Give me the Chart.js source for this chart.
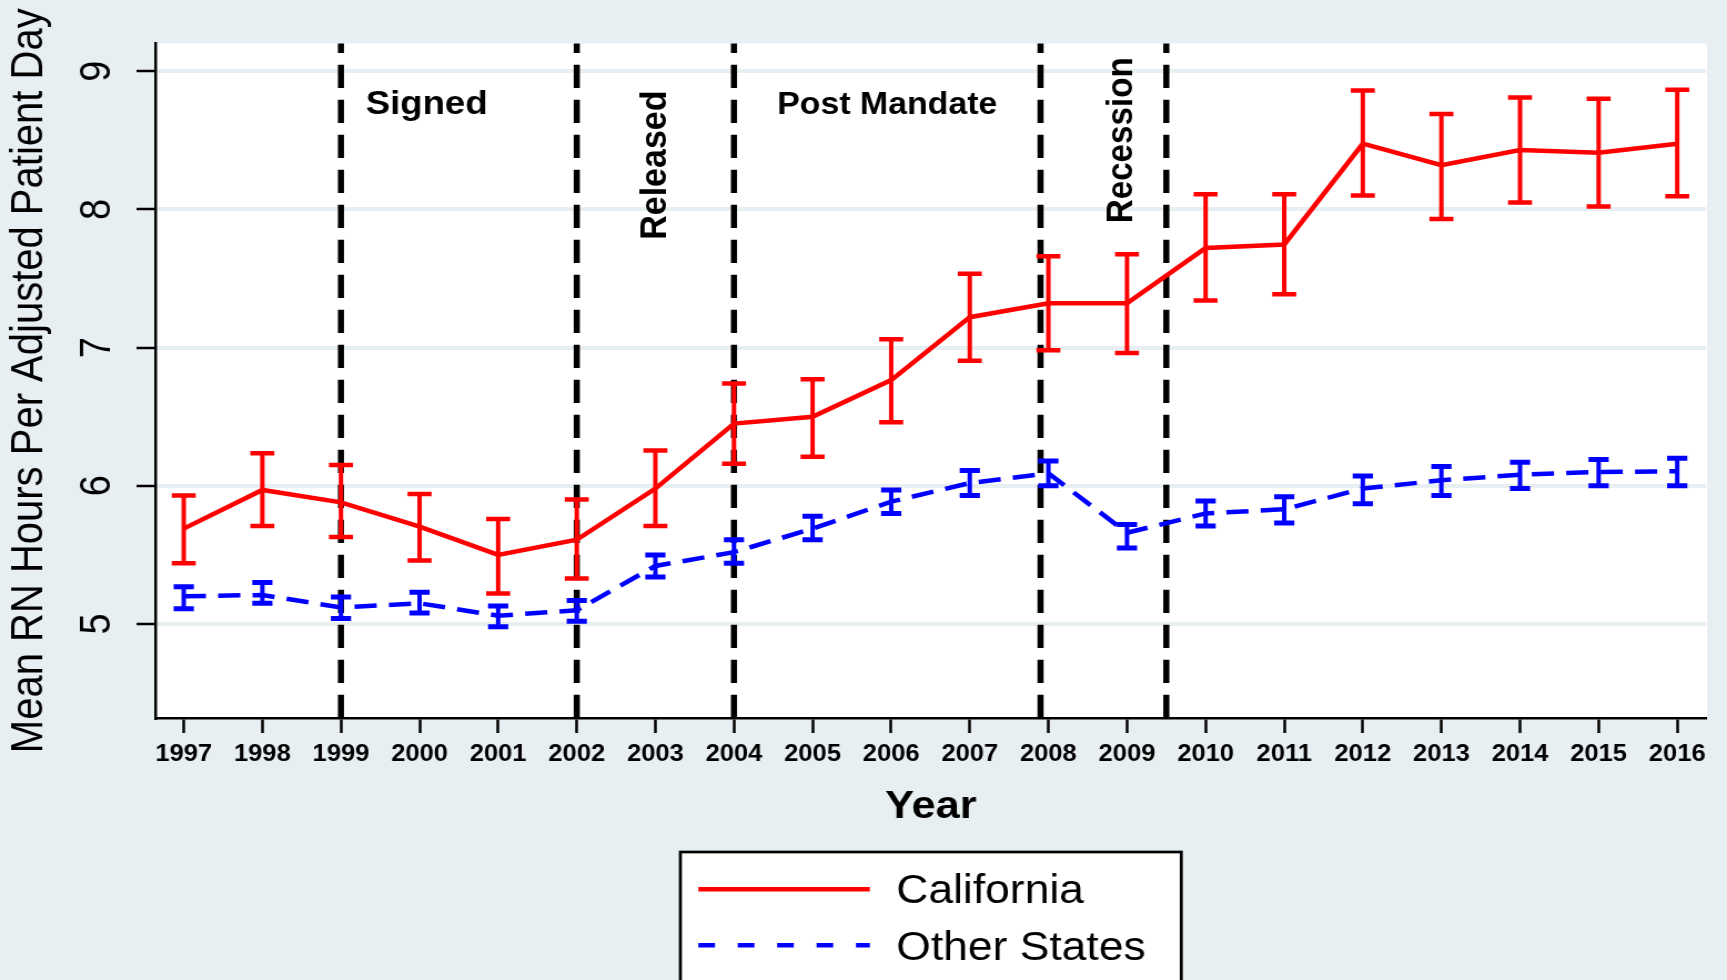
<!DOCTYPE html>
<html>
<head>
<meta charset="utf-8">
<title>Mean RN hours per adjusted patient day</title>
<script src="https://cdn.jsdelivr.net/npm/chart.js@4.4.1/dist/chart.umd.min.js"></script>
<style>
  html, body { margin: 0; padding: 0; background: #e8eff2; overflow: hidden; }
  /* the figure is drawn on a narrower canvas and widened, like the exported graph */
  #rnChart { display: block; transform: scaleX(1.10990); transform-origin: 0 0; }
</style>
</head>
<body>
<canvas id="rnChart" width="1556" height="980"></canvas>
<script>
// yearly means with 95% confidence limits
const years = [1997, 1998, 1999, 2000, 2001, 2002, 2003, 2004, 2005, 2006,
               2007, 2008, 2009, 2010, 2011, 2012, 2013, 2014, 2015, 2016];

const caMean = [5.69, 5.97, 5.88, 5.705, 5.50, 5.61, 5.98, 6.45, 6.50, 6.765,
                7.22, 7.32, 7.32, 7.72, 7.745, 8.475, 8.32, 8.43, 8.41, 8.475];
const caHigh = [5.93, 6.235, 6.15, 5.94, 5.76, 5.90, 6.255, 6.74, 6.77, 7.06,
                7.535, 7.66, 7.675, 8.11, 8.11, 8.86, 8.69, 8.81, 8.80, 8.865];
const caLow  = [5.44, 5.71, 5.63, 5.46, 5.22, 5.33, 5.71, 6.16, 6.21, 6.46,
                6.905, 6.98, 6.96, 7.34, 7.385, 8.10, 7.93, 8.05, 8.02, 8.095];

const otherMean = [5.20, 5.21, 5.12, 5.15, 5.06, 5.10, 5.42, 5.52, 5.69, 5.885,
                   6.02, 6.09, 5.66, 5.80, 5.83, 5.98, 6.04, 6.08, 6.10, 6.105];
const otherHigh = [5.27, 5.30, 5.195, 5.23, 5.13, 5.17, 5.50, 5.61, 5.78, 5.97,
                   6.11, 6.18, 5.72, 5.89, 5.92, 6.07, 6.14, 6.17, 6.19, 6.20];
const otherLow  = [5.11, 5.15, 5.04, 5.08, 4.98, 5.02, 5.34, 5.44, 5.61, 5.80,
                   5.93, 6.00, 5.55, 5.71, 5.73, 5.87, 5.93, 5.98, 6.00, 6.00];

const yTicks = [5, 6, 7, 8, 9];

// policy periods: boundaries (in years) and their names
const periodBreaks = [1999, 2002, 2004, 2007.9, 2009.5];
const periodNames = ['Signed', 'Released', 'Post Mandate', 'Recession'];

const FONT = "'Liberation Sans', Arial, Helvetica, sans-serif";
Chart.defaults.font.family = FONT;
Chart.defaults.color = '#000';

// where each period name sits (x in years, y in hours); rotated ones read bottom-up
const notePlacement = [
  { x: 2000.09, y: 8.69,  rotate: false, size: 33 },
  { x: 2003.14, y: 8.32,  rotate: true,  size: 34 },
  { x: 2005.95, y: 8.69,  rotate: false, size: 30.5 },
  { x: 2009.06, y: 8.50,  rotate: true,  size: 33.2 }
];

const stataLook = {
  id: 'stataLook',
  beforeDraw(chart) {
    const { ctx, chartArea: a } = chart;
    ctx.save();
    ctx.fillStyle = '#ffffff';
    ctx.fillRect(a.left, a.top, a.right - a.left + 1, a.bottom - a.top);
    ctx.restore();
  },
  beforeDatasetsDraw(chart) {
    // dashed period boundaries, drawn from the axis upwards
    const { ctx, chartArea: a, scales: { x } } = chart;
    ctx.save();
    ctx.strokeStyle = '#000';
    ctx.lineWidth = 5.5;
    ctx.setLineDash([23.3, 11.7]);
    for (const b of periodBreaks) {
      const px = x.getPixelForValue(b);
      ctx.beginPath();
      ctx.moveTo(px, a.bottom);
      ctx.lineTo(px, a.top);
      ctx.stroke();
    }
    ctx.restore();
  },
  afterDatasetsDraw(chart) {
    // capped error bars
    const { ctx, scales: { x, y } } = chart;
    ctx.save();
    ctx.setLineDash([]);
    for (const ds of chart.data.datasets) {
      ctx.strokeStyle = ds.borderColor;
      ds.errLow.forEach((lo, i) => {
        const px = x.getPixelForValue(years[i]);
        const pLo = y.getPixelForValue(lo);
        const pHi = y.getPixelForValue(ds.errHigh[i]);
        ctx.lineWidth = ds.errWidth;
        ctx.beginPath();
        ctx.moveTo(px, pLo);
        ctx.lineTo(px, pHi);
        ctx.stroke();
        ctx.lineWidth = ds.capWidth;
        ctx.beginPath();
        ctx.moveTo(px - ds.capHalf, pLo); ctx.lineTo(px + ds.capHalf, pLo);
        ctx.moveTo(px - ds.capHalf, pHi); ctx.lineTo(px + ds.capHalf, pHi);
        ctx.stroke();
      });
    }
    ctx.restore();
  },
  afterDraw(chart) {
    const { ctx, chartArea: a, scales: { x, y } } = chart;
    ctx.save();
    ctx.fillStyle = '#000';

    // period names
    periodNames.forEach((name, i) => {
      const n = notePlacement[i];
      ctx.save();
      ctx.font = `bold ${n.size}px ${FONT}`;
      ctx.textAlign = 'center';
      ctx.textBaseline = 'alphabetic';
      ctx.translate(x.getPixelForValue(n.x), y.getPixelForValue(n.y));
      if (n.rotate) ctx.rotate(-Math.PI / 2);
      ctx.fillText(name, 0, 0);
      ctx.restore();
    });

    // boxed legend under the axis title, running off the bottom edge
    const mid = (a.left + a.right) / 2;
    const boxL = mid - 225.7, boxW = 451.3, boxT = 852;
    ctx.fillStyle = '#ffffff';
    ctx.fillRect(boxL, boxT, boxW, chart.height - boxT + 20);
    ctx.strokeStyle = '#000';
    ctx.lineWidth = 2.7;
    ctx.strokeRect(boxL, boxT, boxW, chart.height - boxT + 20);

    const rows = [
      { ds: chart.data.datasets[0], lineY: 889.3, textY: 902.5, dash: [] },
      { ds: chart.data.datasets[1], lineY: 945.3, textY: 960, dash: [15, 20.5] }
    ];
    ctx.font = `40px ${FONT}`;
    ctx.textAlign = 'left';
    ctx.textBaseline = 'alphabetic';
    for (const r of rows) {
      ctx.strokeStyle = r.ds.borderColor;
      ctx.lineWidth = 4.5;
      ctx.setLineDash(r.dash);
      ctx.beginPath();
      ctx.moveTo(boxL + 16.2, r.lineY);
      ctx.lineTo(boxL + 170.7, r.lineY);
      ctx.stroke();
      ctx.fillStyle = '#000';
      ctx.fillText(r.ds.label, boxL + 194.6, r.textY);
    }
    ctx.restore();
  }
};

new Chart(document.getElementById('rnChart'), {
  type: 'line',
  data: {
    datasets: [
      {
        label: 'California',
        data: years.map((yr, i) => ({ x: yr, y: caMean[i] })),
        borderColor: '#ff0000',
        borderWidth: 4.5,
        pointRadius: 0,
        tension: 0,
        errLow: caLow, errHigh: caHigh,
        errWidth: 4, capWidth: 4.5, capHalf: 10.8
      },
      {
        label: 'Other States',
        data: years.map((yr, i) => ({ x: yr, y: otherMean[i] })),
        borderColor: '#0000ff',
        borderWidth: 4.5,
        borderDash: [20, 11],
        pointRadius: 0,
        tension: 0,
        errLow: otherLow, errHigh: otherHigh,
        errWidth: 4, capWidth: 5, capHalf: 9.1
      }
    ]
  },
  options: {
    responsive: false,
    animation: false,
    events: [],
    layout: { padding: { top: 43.5, right: 19, bottom: 0, left: 0 } },
    plugins: { legend: { display: false }, tooltip: { enabled: false } },
    scales: {
      x: {
        type: 'linear',
        min: 1996.645,
        max: 2016.365,
        afterBuildTicks: s => { s.ticks = years.map(v => ({ value: v })); },
        afterFit: s => { s.height = 262; s.paddingLeft = 0; s.paddingRight = 0; },
        grid: { drawOnChartArea: false, tickLength: 15, tickColor: '#000', tickWidth: 2.5 },
        border: { color: '#000', width: 2.5 },
        ticks: {
          autoSkip: false, maxRotation: 0, padding: 8.3,
          font: { size: 23, weight: 'bold' },
          callback: v => String(v)
        },
        title: {
          display: true, text: 'Year',
          font: { size: 39, weight: 'bold' },
          padding: { top: 0, bottom: 149 }
        }
      },
      y: {
        min: 4.32,
        max: 9.2,
        afterBuildTicks: s => { s.ticks = yTicks.map(v => ({ value: v })); },
        afterFit: s => { s.width = 140.4; s.paddingTop = 0; s.paddingBottom = 0; },
        grid: { color: '#e8eff2', lineWidth: 4, tickLength: 17.4, tickColor: '#000', tickWidth: 2.5 },
        border: { color: '#000', width: 2.5 },
        ticks: {
          minRotation: 90, maxRotation: 90, crossAlign: 'center', padding: 23.7,
          font: { size: 38 },
          callback: v => String(v)
        },
        title: {
          display: true, text: 'Mean RN Hours Per Adjusted Patient Day',
          font: { size: 40 },
          padding: { top: 2.5, bottom: 0 }
        }
      }
    }
  },
  plugins: [stataLook]
});
</script>
</body>
</html>
